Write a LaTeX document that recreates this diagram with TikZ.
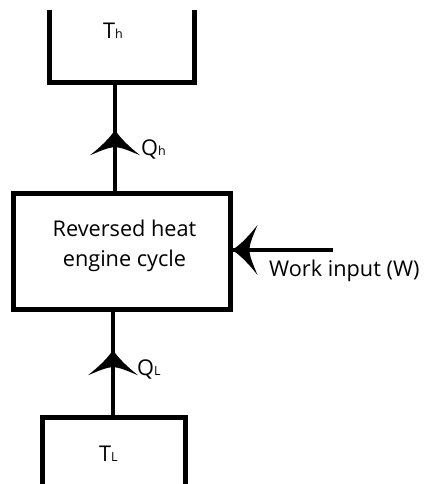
\documentclass[tikz,border=0pt]{standalone}
\usepackage{fontspec}
\setmainfont{Open Sans}
\usetikzlibrary{decorations.markings}
\tikzset{
  wall/.style={line width=5pt, line cap=butt, line join=miter},
  stem/.style={line width=4pt},
  lbl/.style={font=\fontsize{21.7}{30}\selectfont, inner sep=0pt},
  barb/.style={postaction={decorate, decoration={markings,
     mark=at position #1 with {\fill (1pt,0) .. controls (-4pt,2pt) and (-14pt,11pt) .. (-25pt,25pt)
        .. controls (-21pt,15pt) and (-17pt,7pt) .. (-17pt,0pt)
        .. controls (-17pt,-7pt) and (-21pt,-15pt) .. (-25pt,-25pt)
        .. controls (-14pt,-11pt) and (-4pt,-2pt) .. (1pt,0) -- cycle;}}}}
}
\newcommand{\sbs}[1]{{\fontsize{12.5}{12.5}\selectfont #1}}
\begin{document}
\begin{tikzpicture}[x=1pt,y=-1pt]
\useasboundingbox (0,0) rectangle (424,484);
% top reservoir
\coordinate (hl) at (49.5,10);
\coordinate (hr) at (194.5,10);
\coordinate (hb) at (115,82.5);
\draw[wall] (hl) |- (hb) -| (hr);
\node[lbl, anchor=base west] (th) at (103,38.5) {T\sbs{h}};
% main box
\node[draw, wall, minimum width=217pt, minimum height=116pt, inner sep=0pt, outer sep=0pt] (box) at (121.5,251) {};
\node[lbl, align=center] (boxtext) at (124.5,246.3) {Reversed heat\\engine cycle};
% bottom reservoir
\coordinate (ll) at (42,490);
\coordinate (lr) at (185.5,490);
\coordinate (lt) at (113,417.5);
\draw[wall] (ll) |- (lt) -| (lr);
\node[lbl, anchor=base west] (tl) at (99,461) {T\sbs{L}};
% Qh
\draw[stem, barb=0.568] (box.north -| hb) -- (hb);
\node[lbl, anchor=base west] (qh) at (141,155) {Q\sbs{h}};
% QL
\draw[stem, barb=0.62] (lt) -- (lt |- box.south);
\node[lbl, anchor=base west] (ql) at (137,375) {Q\sbs{L}};
% work
\coordinate (w) at (333,250);
\draw[stem, barb=-2.5pt] (w) -- (w -| box.east);
\node[lbl, anchor=base west] (wl) at (269,276) {Work input (W)};
\end{tikzpicture}
\end{document}
